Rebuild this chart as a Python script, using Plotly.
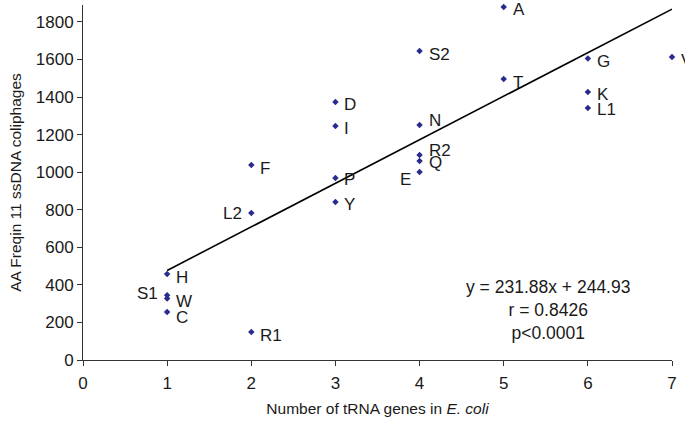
import plotly.graph_objects as go

labels = ["A", "S2", "T", "G", "V", "K", "L1", "N", "D", "I", "R2", "Q", "E", "P", "Y", "F", "L2", "H", "S1", "W", "C", "R1"]
trna_genes = [5, 4, 5, 6, 7, 6, 6, 4, 3, 3, 4, 4, 4, 3, 3, 2, 2, 1, 1, 1, 1, 2]
aa_freq = [1880, 1645, 1496, 1605, 1613, 1427, 1342, 1251, 1374, 1246, 1092, 1060, 1001, 969, 841, 1038, 783, 458, 345, 328, 256, 149]
# label side: 1 = right of point, -1 = left of point; vertical offsets in px
label_side = [1, 1, 1, 1, 1, 1, 1, 1, 1, 1, 1, 1, -1, 1, 1, 1, -1, 1, -1, 1, 1, 1]
label_dy = [-3, -3, -3, -3, -3, -3, -2, 5, -3, -3, 4, -2, -8, -2, -2, -3, -1, -4, 2, -3, -6, -3]
slope = 231.88
intercept = 244.93
fit_x = [1, 7]
fit_y = [slope * v + intercept for v in fit_x]
x_ticks = [0, 1, 2, 3, 4, 5, 6, 7]
y_ticks = [0, 200, 400, 600, 800, 1000, 1200, 1400, 1600, 1800]

font_family = "Liberation Sans, Arial, sans-serif"
txt_color = "#1a1a1a"

fig = go.Figure()
fig.add_trace(go.Scatter(x=fit_x, y=fit_y, mode="lines", line=dict(color="black", width=1.6),
                         hoverinfo="skip", showlegend=False))
fig.add_trace(go.Scatter(
    x=trna_genes, y=aa_freq, mode="markers",
    marker=dict(symbol="diamond", size=5, color="#2b2b8c"),
    cliponaxis=False, showlegend=False))

for lab, xv, yv, side, dy in zip(labels, trna_genes, aa_freq, label_side, label_dy):
    fig.add_annotation(
        x=xv, y=yv, xref="x", yref="y", text=lab, showarrow=False,
        xanchor="left" if side > 0 else "right", yanchor="middle",
        xshift=7 * side, yshift=dy,
        font=dict(family=font_family, size=17, color=txt_color))

fig.add_annotation(
    xref="paper", yref="paper", x=(548 - 83) / 589, y=(360 - 310) / 355,
    xanchor="center", yanchor="middle", showarrow=False, align="center",
    text="y = 231.88x + 244.93<br>r = 0.8426<br>p<0.0001",
    font=dict(family=font_family, size=17.5, color=txt_color))

axis_common = dict(showline=True, linecolor="#333", linewidth=1, ticks="outside", ticklen=5,
                   tickcolor="#333", showgrid=False, zeroline=False, automargin=False,
                   tickfont=dict(family=font_family, size=17, color=txt_color))
fig.update_xaxes(range=[0, 7], tickvals=x_ticks, ticklabelstandoff=3, **axis_common,
                 title=dict(text="Number of tRNA genes in <i>E. coli</i>",
                            font=dict(family=font_family, size=15.5, color=txt_color), standoff=10))
fig.update_yaxes(range=[0, 1890], tickvals=y_ticks, **axis_common,
                 title=dict(text="AA Freqin 11 ssDNA coliphages",
                            font=dict(family=font_family, size=15.5, color=txt_color), standoff=10))
fig.update_layout(width=685, height=424, margin=dict(l=83, r=13, t=5, b=64),
                  plot_bgcolor="white", paper_bgcolor="white")
fig.write_html("out.html", config={"displayModeBar": False},
               post_script="document.body.style.margin='0';document.body.style.overflow='hidden';")
